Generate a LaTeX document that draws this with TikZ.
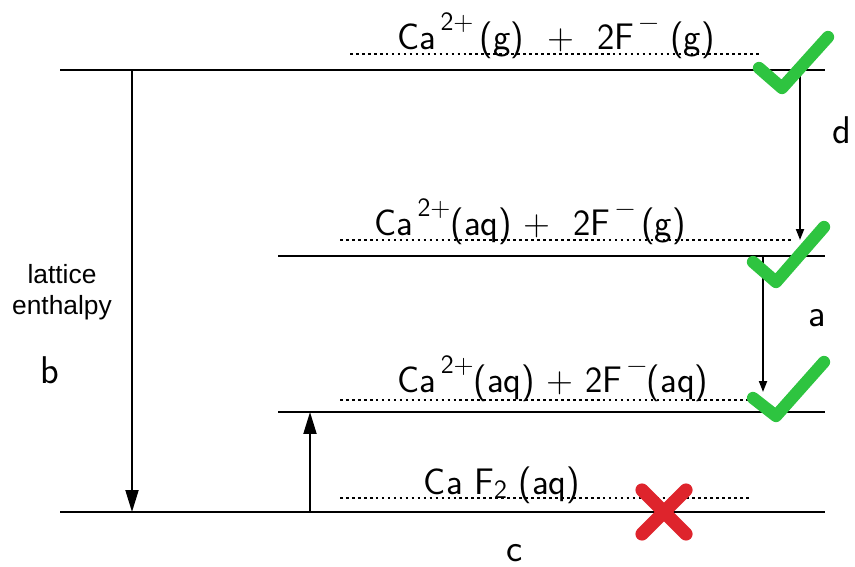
\documentclass[tikz,border=0pt]{standalone}
\usepackage{fontspec}
\usetikzlibrary{arrows.meta}
\newfontfamily\printfont{Liberation Sans}
\definecolor{okgreen}{RGB}{46,196,64}
\definecolor{badred}{RGB}{222,36,44}
\newcommand{\ioncharge}[1]{\raisebox{1.25ex}{\fontsize{15}{16}\selectfont\,#1}}
\begin{document}
\begin{tikzpicture}[
  x=0.02cm, y=-0.02cm,
  level/.style={line width=1.4pt, black},
  guide/.style={line width=1.1pt, dash pattern=on 1.5pt off 1.9pt},
  jump/.style={line width=1.1pt, -{Triangle[length=4.4mm, width=2.6mm]}},
  smalljump/.style={line width=1.1pt, -{Triangle[length=2.2mm, width=1.6mm]}},
  species/.style={anchor=base, inner sep=0pt, font=\sffamily\fontsize{21}{24}\selectfont},
  tag/.style={inner sep=0pt, font=\sffamily\fontsize{22}{24}\selectfont},
  okmark/.style={line width=7pt, okgreen, line join=round, line cap=round},
  nomark/.style={line width=7.5pt, badred, line cap=round},
]
\useasboundingbox (0,0) rectangle (855,567);

% Energy levels
\draw[level] (60,70)   -- (825,70);
\draw[level] (278,256) -- (825,256);
\draw[level] (278,412) -- (825,412);
\draw[level] (60,512)  -- (825,512);

% Dotted answer lines
\draw[guide] (350,54)  -- (762,54);
\draw[guide] (340,240) -- (792,240);
\draw[guide] (340,400) -- (760,400);
\draw[guide] (340,498) -- (752,498);

% Written species
\node[species] (gas)  at (556,50)  {Ca\ioncharge{2+}\,(g)\ \ +\ \ 2F\ioncharge{\textminus}\ (g)};
\node[species] (half) at (530,236) {Ca\ioncharge{2+}(aq)\ + \ 2F\ioncharge{\textminus}\,(g)};
\node[species] (aqu)  at (553,393) {Ca\ioncharge{2+}(aq)\ + 2F\ioncharge{\textminus}(aq)};
\node[species] (salt) at (502,494) {Ca F\raisebox{-0.3ex}{\fontsize{15}{16}\selectfont 2} (aq)};

% Arrow end points
\coordinate (b1) at (132,70);
\coordinate (b2) at (132,512);
\coordinate (c1) at (310,512);
\coordinate (c2) at (310,412);
\coordinate (d1) at (800,70);
\coordinate (d2) at (800,240);
\coordinate (a1) at (763,256);
\coordinate (a2) at (763,392);

\draw[jump] (b1) -- (b2);
\draw[jump] (c1) -- (c2);
\draw[smalljump] (d1) -- (d2);
\draw[smalljump] (a1) -- (a2);

% Labels
\node[align=center, inner sep=0pt, font=\printfont\fontsize{15}{17.6}\selectfont]
  (lat) at (62,292) {lattice\\enthalpy};
\node[tag] (lb) at (50,370)  {b};
\node[tag] (lc) at (515,553) {c};
\node[tag] (ld) at (842,130) {d};
\node[tag] (la) at (817,318) {a};

% Marking
\draw[okmark] (759,68)  -- (782,88)  -- (828,37);
\draw[okmark] (753,262) -- (776,282) -- (824,227);
\draw[okmark] (753,398) -- (776,416) -- (824,362);
\draw[nomark] (642,490) -- (686,534);
\draw[nomark] (686,490) -- (642,534);
\end{tikzpicture}
\end{document}
